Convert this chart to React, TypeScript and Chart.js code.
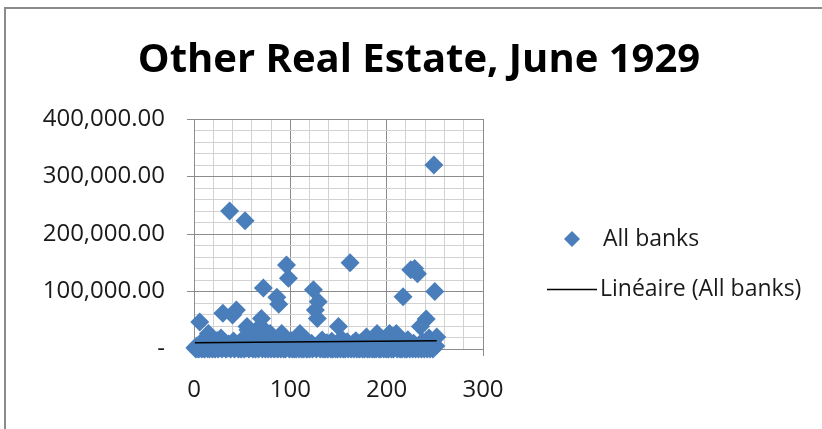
import React, { useEffect, useRef } from 'react';
import { Chart, registerables } from 'chart.js';

Chart.register(...registerables);

const TITLE = 'Other Real Estate, June 1929';
const SERIES_LABEL = 'All banks';
const TREND_LABEL = 'Linéaire (All banks)';

const X_TICK_LABELS = [0, 100, 200, 300];
const Y_TICK_LABELS = [0, 100000, 200000, 300000, 400000];

// Other real estate per bank (bank number = position + 1)
const BANK_VALUES = [
  2100, 0, 5400, 800, 0, 47000, 3200, 0, 9800, 1500, 0, 4100,
  21000, 600, 27000, 0, 7300, 2400, 0, 12000, 900, 0, 3600, 15000,
  0, 1800, 6200, 19000, 0, 62000, 2700, 11000, 0, 4800, 1200, 8600,
  240000, 0, 3400, 59000, 14000, 0, 2200, 68000, 5100, 0, 9000, 700,
  0, 16000, 3900, 0, 223000, 1100, 39000, 33000, 0, 6700, 2600, 25000,
  0, 10500, 1400, 0, 4500, 17000, 0, 2900, 40000, 53000, 0, 106000,
  8100, 0, 1600, 13000, 0, 5600, 27000, 0, 2300, 18000, 0, 7400,
  1000, 90000, 0, 78000, 4200, 0, 27000, 11500, 0, 3100, 0, 146000,
  6000, 123000, 0, 1900, 14500, 0, 8800, 0, 2500, 0, 12500, 4700,
  0, 27000, 1300, 0, 9400, 0, 3800, 16500, 0, 600, 5900, 0,
  2000, 10000, 0, 103000, 3300, 68000, 0, 53000, 82000, 7000, 0, 1700,
  15500, 0, 4400, 0, 900, 11000, 0, 6300, 2800, 0, 13500, 0,
  1500, 8300, 0, 3500, 0, 39000, 5200, 0, 18000, 1100, 0, 7700,
  0, 2400, 12800, 0, 4900, 150000, 0, 1800, 9600, 0, 3000, 14200,
  0, 5500, 700, 0, 10800, 2100, 0, 6900, 0, 17500, 21000, 0,
  3700, 0, 8000, 1400, 0, 12200, 0, 4600, 0, 27000, 2000, 0,
  9200, 0, 15800, 3200, 0, 6400, 1000, 0, 11300, 0, 27000, 4300,
  0, 8500, 0, 2600, 14800, 27000, 0, 5000, 1200, 0, 10200, 0,
  91000, 3600, 0, 7200, 0, 16200, 2200, 0, 138000, 4800, 0, 9900,
  140000, 0, 2900, 131000, 0, 6600, 39000, 0, 13200, 1600, 0, 8200,
  52000, 0, 4000, 19000, 0, 11800, 2500, 0, 320000, 100000, 5300, 21000,
];

// Linear trend line end points
const TREND_X = [1, 252];
const TREND_Y = [11000, 14400];

const POINT_COLOR = '#4A7EBB';
const MAJOR_GRID = '#8c8c8c';
const MINOR_GRID = '#d2d2d2';
const FONT = 'Open Sans';

const legendPlugin = {
  id: 'excelLegend',
  afterDraw(chart: any) {
    const { ctx, chartArea } = chart;
    const ds = chart.data.datasets;
    const baseX = chartArea.right;
    ctx.save();
    ctx.font = `23px "${FONT}"`;
    ctx.textBaseline = 'middle';
    ctx.textAlign = 'left';
    // scatter item
    const dx = baseX + 89;
    const dy = 239;
    const r = 8;
    ctx.beginPath();
    ctx.moveTo(dx, dy - r);
    ctx.lineTo(dx + r, dy);
    ctx.lineTo(dx, dy + r);
    ctx.lineTo(dx - r, dy);
    ctx.closePath();
    ctx.fillStyle = POINT_COLOR;
    ctx.fill();
    ctx.fillStyle = '#1a1a1a';
    ctx.fillText(ds[0].label, baseX + 120, dy);
    // trend item
    const ly = 289;
    ctx.beginPath();
    ctx.moveTo(baseX + 64, ly + 0.5);
    ctx.lineTo(baseX + 114, ly + 0.5);
    ctx.strokeStyle = '#000';
    ctx.lineWidth = 1.5;
    ctx.stroke();
    ctx.fillText(ds[1].label, baseX + 117, ly);
    ctx.restore();
  },
};

export default function App() {
  const canvasRef = useRef<HTMLCanvasElement | null>(null);

  useEffect(() => {
    const canvas = canvasRef.current;
    if (!canvas) return;
    const scatterData = BANK_VALUES.map((v, i) => ({ x: i + 1, y: v }));
    const trendData = TREND_X.map((x, i) => ({ x, y: TREND_Y[i] }));

    const chart = new Chart(canvas, {
      type: 'scatter',
      data: {
        datasets: [
          {
            type: 'scatter',
            label: SERIES_LABEL,
            data: scatterData,
            pointStyle: 'rectRot',
            pointRadius: 9.5,
            pointHoverRadius: 9.5,
            backgroundColor: POINT_COLOR,
            borderColor: POINT_COLOR,
            borderWidth: 0,
            clip: false,
            order: 1,
          } as any,
          {
            type: 'line',
            label: TREND_LABEL,
            data: trendData,
            borderColor: '#000000',
            borderWidth: 1.5,
            pointRadius: 0,
            fill: false,
            order: 0,
          } as any,
        ],
      },
      options: {
        responsive: false,
        animation: false,
        events: [],
        layout: { padding: { left: 16, right: 0, top: 0, bottom: 0 } },
        plugins: {
          legend: { display: false },
          tooltip: { enabled: false },
          title: {
            display: true,
            text: TITLE,
            color: '#000',
            font: { family: FONT, size: 40, weight: 'bold' },
            padding: { top: 37, bottom: 34 },
          },
        },
        scales: {
          x: {
            type: 'linear',
            position: 'bottom',
            min: 0,
            max: 300,
            afterFit: (s: any) => { s.height = 80; },
            ticks: {
              stepSize: 20,
              autoSkip: false,
              maxRotation: 0,
              padding: 20,
              color: '#1a1a1a',
              font: { family: FONT, size: 24 },
              callback: (v: any) => (X_TICK_LABELS.includes(Number(v)) ? String(v) : ''),
            },
            grid: {
              color: (c: any) => (c.tick && X_TICK_LABELS.includes(c.tick.value) ? MAJOR_GRID : MINOR_GRID),
              tickColor: (c: any) => (c.tick && X_TICK_LABELS.includes(c.tick.value) ? MAJOR_GRID : 'rgba(0,0,0,0)'),
              tickLength: 7,
              lineWidth: 1,
            },
            border: { display: true, color: MAJOR_GRID, width: 1 },
          },
          y: {
            type: 'linear',
            position: 'left',
            min: 0,
            max: 400000,
            afterFit: (s: any) => { s.width = 178; },
            ticks: {
              stepSize: 20000,
              autoSkip: false,
              padding: 22,
              color: '#1a1a1a',
              font: { family: FONT, size: 24 },
              callback: (v: any) => {
                const n = Number(v);
                if (!Y_TICK_LABELS.includes(n)) return '';
                if (n === 0) return '-';
                return n.toLocaleString('en-US', { minimumFractionDigits: 2, maximumFractionDigits: 2 });
              },
            },
            grid: {
              color: (c: any) => (c.tick && Y_TICK_LABELS.includes(c.tick.value) ? MAJOR_GRID : MINOR_GRID),
              tickColor: (c: any) => (c.tick && Y_TICK_LABELS.includes(c.tick.value) ? MAJOR_GRID : 'rgba(0,0,0,0)'),
              tickLength: 7,
              lineWidth: 1,
            },
            border: { display: true, color: MAJOR_GRID, width: 1 },
          },
          legendSpace: {
            type: 'linear',
            position: 'right',
            display: true,
            min: 0,
            max: 1,
            afterFit: (s: any) => { s.width = 339; },
            ticks: { display: false },
            grid: { display: false, drawTicks: false },
            border: { display: false },
          },
        },
      },
      plugins: [legendPlugin],
    });

    return () => chart.destroy();
  }, []);

  return (
    <div style={{ position: 'absolute', left: 0, top: 0, width: 822, height: 429, background: '#fff', overflow: 'hidden' }}>
      <canvas ref={canvasRef} width={822} height={429} style={{ position: 'absolute', left: 0, top: 0, width: 822, height: 429 }} />
      <div
        style={{
          position: 'absolute',
          left: 4,
          top: 7,
          width: 816,
          height: 420,
          borderLeft: '2px solid #8a8a8a',
          borderTop: '2px solid #8a8a8a',
          pointerEvents: 'none',
        }}
      />
    </div>
  );
}
